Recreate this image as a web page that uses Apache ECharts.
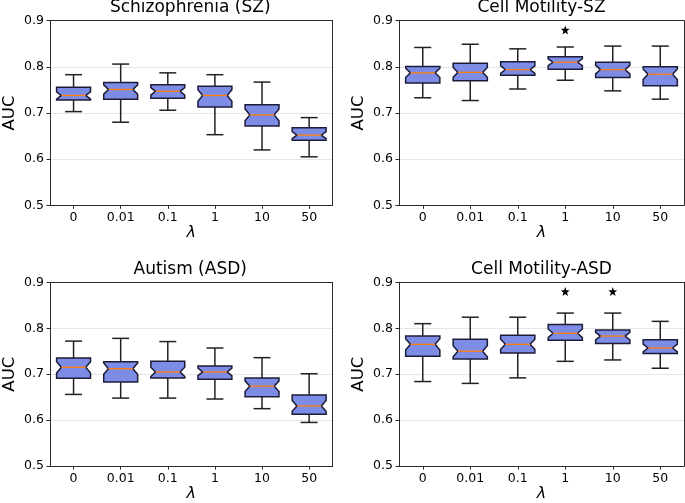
<!DOCTYPE html>
<html>
<head>
<meta charset="utf-8">
<script src="https://cdn.jsdelivr.net/npm/echarts@6/dist/echarts.min.js"></script>
<style>html,body{margin:0;padding:0;background:#fff}#c{width:685px;height:503px}</style>
</head>
<body>
<div id="c"></div>
<script>
// categories (lambda)
const lambdas = ['0', '0.01', '0.1', '1', '10', '50'];
const yTicks = { min: 0.5, max: 0.9, step: 0.1 };

// each row: [low whisker, Q1, median, Q3, high whisker]
const szBoxes = [
  [0.703, 0.728, 0.738, 0.756, 0.783],
  [0.680, 0.730, 0.751, 0.766, 0.806],
  [0.706, 0.732, 0.747, 0.761, 0.787],
  [0.653, 0.713, 0.738, 0.758, 0.783],
  [0.620, 0.672, 0.696, 0.718, 0.767],
  [0.605, 0.641, 0.652, 0.668, 0.690]
];
const motSzBoxes = [
  [0.733, 0.765, 0.787, 0.801, 0.842],
  [0.727, 0.770, 0.788, 0.808, 0.849],
  [0.752, 0.782, 0.794, 0.811, 0.839],
  [0.771, 0.795, 0.810, 0.822, 0.843],
  [0.748, 0.777, 0.794, 0.810, 0.845],
  [0.730, 0.759, 0.784, 0.800, 0.845]
];
const asdBoxes = [
  [0.656, 0.691, 0.715, 0.735, 0.772],
  [0.648, 0.683, 0.712, 0.727, 0.778],
  [0.648, 0.692, 0.705, 0.728, 0.771],
  [0.646, 0.689, 0.705, 0.718, 0.757],
  [0.625, 0.651, 0.674, 0.692, 0.736],
  [0.595, 0.613, 0.631, 0.655, 0.701]
];
const motAsdBoxes = [
  [0.684, 0.739, 0.765, 0.783, 0.810],
  [0.680, 0.733, 0.750, 0.776, 0.824],
  [0.692, 0.746, 0.765, 0.785, 0.824],
  [0.728, 0.774, 0.789, 0.808, 0.833],
  [0.731, 0.767, 0.783, 0.796, 0.833],
  [0.713, 0.745, 0.757, 0.775, 0.815]
];
// significance stars
const motSzStars = ['1'];
const motAsdStars = ['1', '10'];
const starLevel = 0.88;

const titles = ['Schizophrenia (SZ)', 'Cell Motility-SZ', 'Autism (ASD)', 'Cell Motility-ASD'];
const panels = [szBoxes, motSzBoxes, asdBoxes, motAsdBoxes];
const stars = [[], motSzStars, [], motAsdStars];

const grids = [
  { left: 47.7, top: 20.7, width: 285, height: 184.6 },
  { left: 399, top: 20.7, width: 285, height: 184.6 },
  { left: 47.7, top: 282.3, width: 285, height: 185 },
  { left: 399, top: 282.3, width: 285, height: 185 }
];

const FONT = 'DejaVu Sans';
const FRAME = '#2a2a2a';

function renderBox(params, api) {
  const xi = api.value(0);
  const vLow = api.value(1), vQ1 = api.value(2), vMed = api.value(3), vQ3 = api.value(4), vHigh = api.value(5);
  const pLow = api.coord([xi, vLow]);
  const pQ1 = api.coord([xi, vQ1]);
  const pMed = api.coord([xi, vMed]);
  const pQ3 = api.coord([xi, vQ3]);
  const pHigh = api.coord([xi, vHigh]);
  const band = api.size([1, 0])[0];
  const hw = band * 0.36;
  const inner = hw * 0.72;
  const cap = hw * 0.5;
  const nh = 0.28 * (vQ3 - vQ1);
  const yNT = api.coord([xi, Math.min(vMed + nh, vQ3)])[1];
  const yNB = api.coord([xi, Math.max(vMed - nh, vQ1)])[1];
  const cx = pMed[0];
  const edge = '#1c1c38';
  const wStyle = { stroke: '#222', lineWidth: 1.5 };
  return {
    type: 'group',
    children: [
      { type: 'line', shape: { x1: cx, y1: pQ3[1], x2: cx, y2: pHigh[1] }, style: wStyle },
      { type: 'line', shape: { x1: cx, y1: pQ1[1], x2: cx, y2: pLow[1] }, style: wStyle },
      { type: 'line', shape: { x1: cx - cap, y1: pHigh[1], x2: cx + cap, y2: pHigh[1] }, style: wStyle },
      { type: 'line', shape: { x1: cx - cap, y1: pLow[1], x2: cx + cap, y2: pLow[1] }, style: wStyle },
      {
        type: 'polygon',
        shape: {
          points: [
            [cx - hw, pQ1[1]], [cx - hw, yNB], [cx - inner, pMed[1]], [cx - hw, yNT], [cx - hw, pQ3[1]],
            [cx + hw, pQ3[1]], [cx + hw, yNT], [cx + inner, pMed[1]], [cx + hw, yNB], [cx + hw, pQ1[1]]
          ]
        },
        style: { fill: '#7d8de6', stroke: edge, lineWidth: 1.5 }
      },
      { type: 'line', shape: { x1: cx - inner, y1: pMed[1], x2: cx + inner, y2: pMed[1] }, style: { stroke: '#ff7f0e', lineWidth: 1.3 } }
    ]
  };
}

const starPath = 'path://M0,-10 L2.35,-3.24 L9.51,-3.09 L3.8,1.24 L5.88,8.09 L0,4 L-5.88,8.09 L-3.8,1.24 L-9.51,-3.09 L-2.35,-3.24 Z';

const xAxes = [], yAxes = [];
grids.forEach((g, i) => {
  xAxes.push({
    type: 'category', gridIndex: i, data: lambdas, boundaryGap: true, position: 'bottom',
    axisLine: { show: true, lineStyle: { color: FRAME, width: 1 } },
    axisTick: { show: true, alignWithLabel: true, length: 3.5, lineStyle: { color: FRAME } },
    axisLabel: { color: '#000', fontSize: 12.5, fontFamily: FONT, margin: 6 },
    name: 'λ', nameLocation: 'middle', nameGap: 18,
    nameTextStyle: { fontSize: 16, fontStyle: 'italic', fontFamily: FONT, color: '#000' },
    splitLine: { show: false }
  });
  yAxes.push({
    type: 'value', gridIndex: i, min: yTicks.min, max: yTicks.max, interval: yTicks.step, position: 'left',
    axisLine: { show: true, lineStyle: { color: FRAME, width: 1 } },
    axisTick: { show: true, length: 3.5, lineStyle: { color: FRAME } },
    axisLabel: { color: '#000', fontSize: 12.5, fontFamily: FONT, margin: 6, formatter: v => v.toFixed(1) },
    splitLine: { show: true, lineStyle: { color: '#e6e6e6', width: 1 } },
    name: 'AUC', nameLocation: 'middle', nameGap: 32, nameRotate: 90,
    nameTextStyle: { fontSize: 16.5, fontFamily: FONT, color: '#000' }
  });
});
// frame: top and right edges
grids.forEach((g, i) => {
  xAxes.push({
    type: 'category', gridIndex: i, data: lambdas, position: 'top',
    axisLine: { show: true, onZero: false, lineStyle: { color: FRAME, width: 1 } },
    axisTick: { show: false }, axisLabel: { show: false }, splitLine: { show: false }
  });
  yAxes.push({
    type: 'value', gridIndex: i, min: yTicks.min, max: yTicks.max, interval: yTicks.step, position: 'right',
    axisLine: { show: true, onZero: false, lineStyle: { color: FRAME, width: 1 } },
    axisTick: { show: false }, axisLabel: { show: false }, splitLine: { show: false }
  });
});

const option = {
  animation: false,
  backgroundColor: '#fff',
  textStyle: { fontFamily: FONT },
  grid: grids.map(g => Object.assign({ containLabel: false }, g)),
  xAxis: xAxes,
  yAxis: yAxes,
  graphic: titles.map((t, i) => ({
    type: 'text',
    x: grids[i].left + grids[i].width / 2,
    y: i < 2 ? 8 : 269.5,
    style: { text: t, fontSize: 17, fontFamily: FONT, fill: '#000', align: 'center', verticalAlign: 'middle' }
  })),
  series: []
};

panels.forEach((boxes, i) => {
  option.series.push({
    type: 'custom', xAxisIndex: i, yAxisIndex: i,
    renderItem: renderBox,
    encode: { x: 0, y: [1, 2, 3, 4, 5] },
    data: boxes.map((b, k) => [k].concat(b)),
    z: 3
  });
  if (stars[i].length) {
    option.series.push({
      type: 'scatter', xAxisIndex: i, yAxisIndex: i,
      symbol: starPath, symbolSize: 9,
      itemStyle: { color: '#000', opacity: 1 },
      data: stars[i].map(c => [c, starLevel]),
      z: 4
    });
  }
});

const chart = echarts.init(document.getElementById('c'), null, { renderer: 'canvas' });
chart.setOption(option);
</script>
</body>
</html>
